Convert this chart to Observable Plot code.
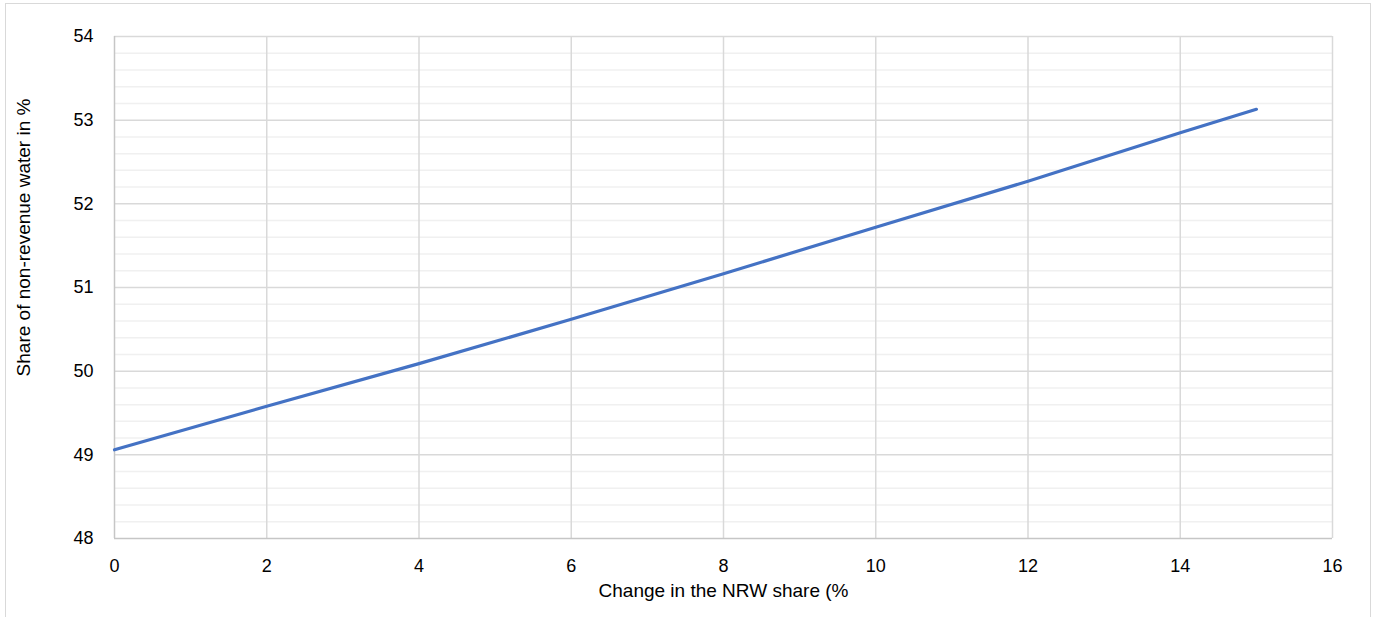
<!DOCTYPE html>
<html>
<head>
<meta charset="utf-8">
<script src="https://cdn.jsdelivr.net/npm/d3@7"></script>
<script src="https://cdn.jsdelivr.net/npm/@observablehq/plot@0.6"></script>
<style>
  html, body { margin: 0; padding: 0; background: #fff; overflow: hidden; }
  #wrap { position: relative; width: 1378px; height: 617px; }
  #frame { position: absolute; left: 5px; top: 3px; width: 1366px; height: 640px; border: 1px solid #d9d9d9; box-sizing: border-box; }
  #chart { position: absolute; left: 0; top: 0; }
  #chart svg { font-family: "Liberation Sans", Arial, sans-serif; }
</style>
</head>
<body>
<div id="wrap"><div id="frame"></div><div id="chart"></div></div>
<script>
// Data
const nrwChange = [0, 2, 4, 6, 8, 10, 12, 14, 15];
const nrwShare  = [49.06, 49.58, 50.09, 50.62, 51.165, 51.72, 52.27, 52.85, 53.13];
const xTicks = [0, 2, 4, 6, 8, 10, 12, 14, 16];
const yTicks = [48, 49, 50, 51, 52, 53, 54];
const yMinorTicks = [48.2,48.4,48.6,48.8,49.2,49.4,49.6,49.8,50.2,50.4,50.6,50.8,51.2,51.4,51.6,51.8,52.2,52.4,52.6,52.8,53.2,53.4,53.6,53.8];
const xTitle = "Change in the NRW share (%";
const yTitle = "Share of non-revenue water in %";

const data = nrwChange.map((x, i) => ({x, y: nrwShare[i]}));

const chart = Plot.plot({
  width: 1378,
  height: 617,
  marginLeft: 114,
  marginRight: 46,
  marginTop: 36,
  marginBottom: 79,
  style: {fontSize: "18px", color: "#000", background: "transparent"},
  x: {domain: [0, 16], axis: null},
  y: {domain: [48, 54], axis: null},
  marks: [
    Plot.ruleY(yMinorTicks, {stroke: "#f0f0f0", strokeWidth: 1.5}),
    Plot.ruleY(yTicks.slice(1), {stroke: "#d9d9d9", strokeWidth: 1.5}),
    Plot.ruleX(xTicks.slice(1), {stroke: "#d9d9d9", strokeWidth: 1.5}),
    Plot.ruleX([0], {stroke: "#c6c6c6", strokeWidth: 1.5}),
    Plot.ruleY([48], {stroke: "#c6c6c6", strokeWidth: 1.5}),
    Plot.line(data, {x: "x", y: "y", stroke: "#4472c4", strokeWidth: 3.2, strokeLinecap: "round"}),
    Plot.axisX(xTicks, {tickSize: 0, tickPadding: 21, fontSize: 18, label: null, tickFormat: d => String(d)}),
    Plot.axisY(yTicks, {tickSize: 0, tickPadding: 21, fontSize: 18, label: null, tickFormat: d => String(d)}),
    Plot.text([xTitle], {frameAnchor: "bottom", dy: 58, fontSize: 19, fill: "#000"}),
    Plot.text([yTitle], {frameAnchor: "left", textAnchor: "middle", dx: -91, dy: -50, rotate: -90, fontSize: 19, fill: "#000"})
  ]
});
document.getElementById("chart").appendChild(chart);
</script>
</body>
</html>
